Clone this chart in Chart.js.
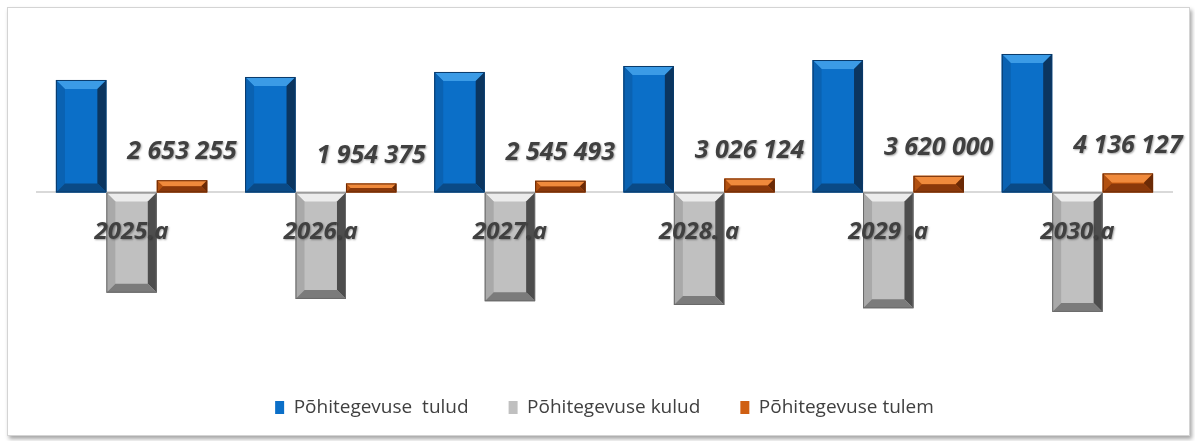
<!DOCTYPE html>
<html lang="et">
<head>
<meta charset="utf-8">
<title>Põhitegevuse tulud, kulud ja tulem</title>
<script src="https://cdn.jsdelivr.net/npm/chart.js@4.4.1/dist/chart.umd.min.js"></script>
<style>
  html, body { margin: 0; padding: 0; background: #fff; }
  #wrap { position: relative; width: 1195px; height: 441px; overflow: hidden; }
  #frame {
    position: absolute; left: 7px; top: 7px; width: 1181px; height: 427px;
    border: 1px solid #d4d4d4; background: #fff;
    box-shadow: 2px 3px 4px rgba(0, 0, 0, .35);
  }
  #chart { position: absolute; left: 0; top: 0; }
</style>
</head>
<body>
<div id="wrap">
  <div id="frame"></div>
  <canvas id="chart" width="1195" height="441"></canvas>
</div>
<script>
// Põhitegevuse tulud / kulud / tulem 2025–2030 (eurodes)
const aastad = ['2025.a', '2026.a', '2027.a', '2028. a', '2029 .a', '2030.a'];
const tulud = [24460000, 25110000, 26200000, 27500000, 28800000, 30110000];
const kulud = [-21800000, -23160000, -23650000, -24470000, -25180000, -25970000];
const tulem = [2653255, 1954375, 2545493, 3026124, 3620000, 4136127];

// telje piirid (y-telg on peidetud)
const yMin = -36000000;
const yMax = 37500000;

const font = '"Open Sans", "Liberation Sans", sans-serif';
const tekst = '#404040';

// 2 653 255
const fmt = (v) => String(Math.round(v)).replace(/\B(?=(\d{3})+(?!\d))/g, ' ');

const varjuga = (ctx) => {
    ctx.shadowColor = 'rgba(0,0,0,.35)';
    ctx.shadowOffsetX = 1;
    ctx.shadowOffsetY = 1;
    ctx.shadowBlur = 2;
};

// Exceli "kaldserv" efekt tulpadele
const bevel = {
    id: 'bevel',
    afterDatasetsDraw(chart) {
        const ctx = chart.ctx;
        chart.data.datasets.forEach((ds, i) => {
            const c = ds.bevel;
            chart.getDatasetMeta(i).data.forEach((bar) => {
                const { x, y, base, width } = bar.getProps(['x', 'y', 'base', 'width'], true);
                const L = x - width / 2, R = x + width / 2;
                const T = Math.min(y, base), B = Math.max(y, base);
                const b = Math.min(9, (B - T) / 2);
                const poly = (pts, col) => {
                    ctx.beginPath();
                    ctx.moveTo(pts[0][0], pts[0][1]);
                    pts.slice(1).forEach((p) => ctx.lineTo(p[0], p[1]));
                    ctx.closePath();
                    ctx.fillStyle = col;
                    ctx.fill();
                };
                ctx.save();
                poly([[L, T], [R, T], [R - b, T + b], [L + b, T + b]], c.top);
                poly([[L, T], [L + b, T + b], [L + b, B - b], [L, B]], c.left);
                poly([[R, T], [R, B], [R - b, B - b], [R - b, T + b]], c.right);
                poly([[L, B], [L + b, B - b], [R - b, B - b], [R, B]], c.bottom);
                ctx.strokeStyle = c.line;
                ctx.lineWidth = 1;
                ctx.strokeRect(L + 0.5, T + 0.5, width - 1, B - T - 1);
                ctx.restore();
            });
        });
    },
};

// väärtussildid tulemi tulpade kohal
const tulemSildid = {
    id: 'tulemSildid',
    afterDatasetsDraw(chart) {
        const ctx = chart.ctx;
        const meta = chart.getDatasetMeta(2);
        ctx.save();
        ctx.font = 'italic bold 25px ' + font;
        ctx.fillStyle = tekst;
        ctx.textAlign = 'center';
        ctx.textBaseline = 'middle';
        varjuga(ctx);
        meta.data.forEach((bar, j) => ctx.fillText(fmt(tulem[j]), bar.x, bar.y - 28));
        ctx.restore();
        // aastasildid (z: 1) joonistatakse kohe pärast seda – sama vari
        varjuga(ctx);
    },
    afterDraw(chart) {
        const ctx = chart.ctx;
        ctx.shadowColor = 'rgba(0,0,0,0)';
        ctx.shadowOffsetX = 0;
        ctx.shadowOffsetY = 0;
        ctx.shadowBlur = 0;
    },
};

new Chart(document.getElementById('chart'), {
    type: 'bar',
    data: {
        labels: aastad,
        datasets: [
            {
                label: 'Põhitegevuse  tulud',
                data: tulud,
                backgroundColor: '#0b6fc8',
                bevel: { top: '#3b9be6', left: '#0a62b2', right: '#0b355f', bottom: '#0a4a86', line: '#0a3a6a' },
            },
            {
                label: 'Põhitegevuse kulud',
                data: kulud,
                backgroundColor: '#c0c0c0',
                bevel: { top: '#ececec', left: '#a9a9a9', right: '#4d4d4d', bottom: '#7b7b7b', line: '#6a6a6a' },
            },
            {
                label: 'Põhitegevuse tulem',
                data: tulem,
                backgroundColor: '#cf5f12',
                bevel: { top: '#f08a3c', left: '#b2500f', right: '#6b2a06', bottom: '#8a380a', line: '#6b2a06' },
            },
        ],
    },
    options: {
        responsive: false,
        animation: false,
        barPercentage: 1,
        categoryPercentage: 0.8,
        layout: { padding: { left: 37, right: 23, top: 20, bottom: 14 } },
        plugins: {
            legend: {
                position: 'bottom',
                labels: {
                    color: tekst,
                    font: { family: font, size: 19 },
                    boxWidth: 9,
                    boxHeight: 13,
                    padding: 40,
                },
            },
            tooltip: { enabled: false },
        },
        scales: {
            x: {
                position: { y: 0 },
                grid: { display: false, drawTicks: false },
                border: { display: true, color: '#d9d9d9', width: 2 },
                ticks: {
                    z: 1,
                    color: tekst,
                    padding: 25,
                    font: { family: font, size: 24, style: 'italic', weight: 'bold' },
                    maxRotation: 0,
                },
                afterFit: (s) => { s.height = 0; },
            },
            y: { display: false, min: yMin, max: yMax },
        },
    },
    plugins: [bevel, tulemSildid],
});
</script>
</body>
</html>
